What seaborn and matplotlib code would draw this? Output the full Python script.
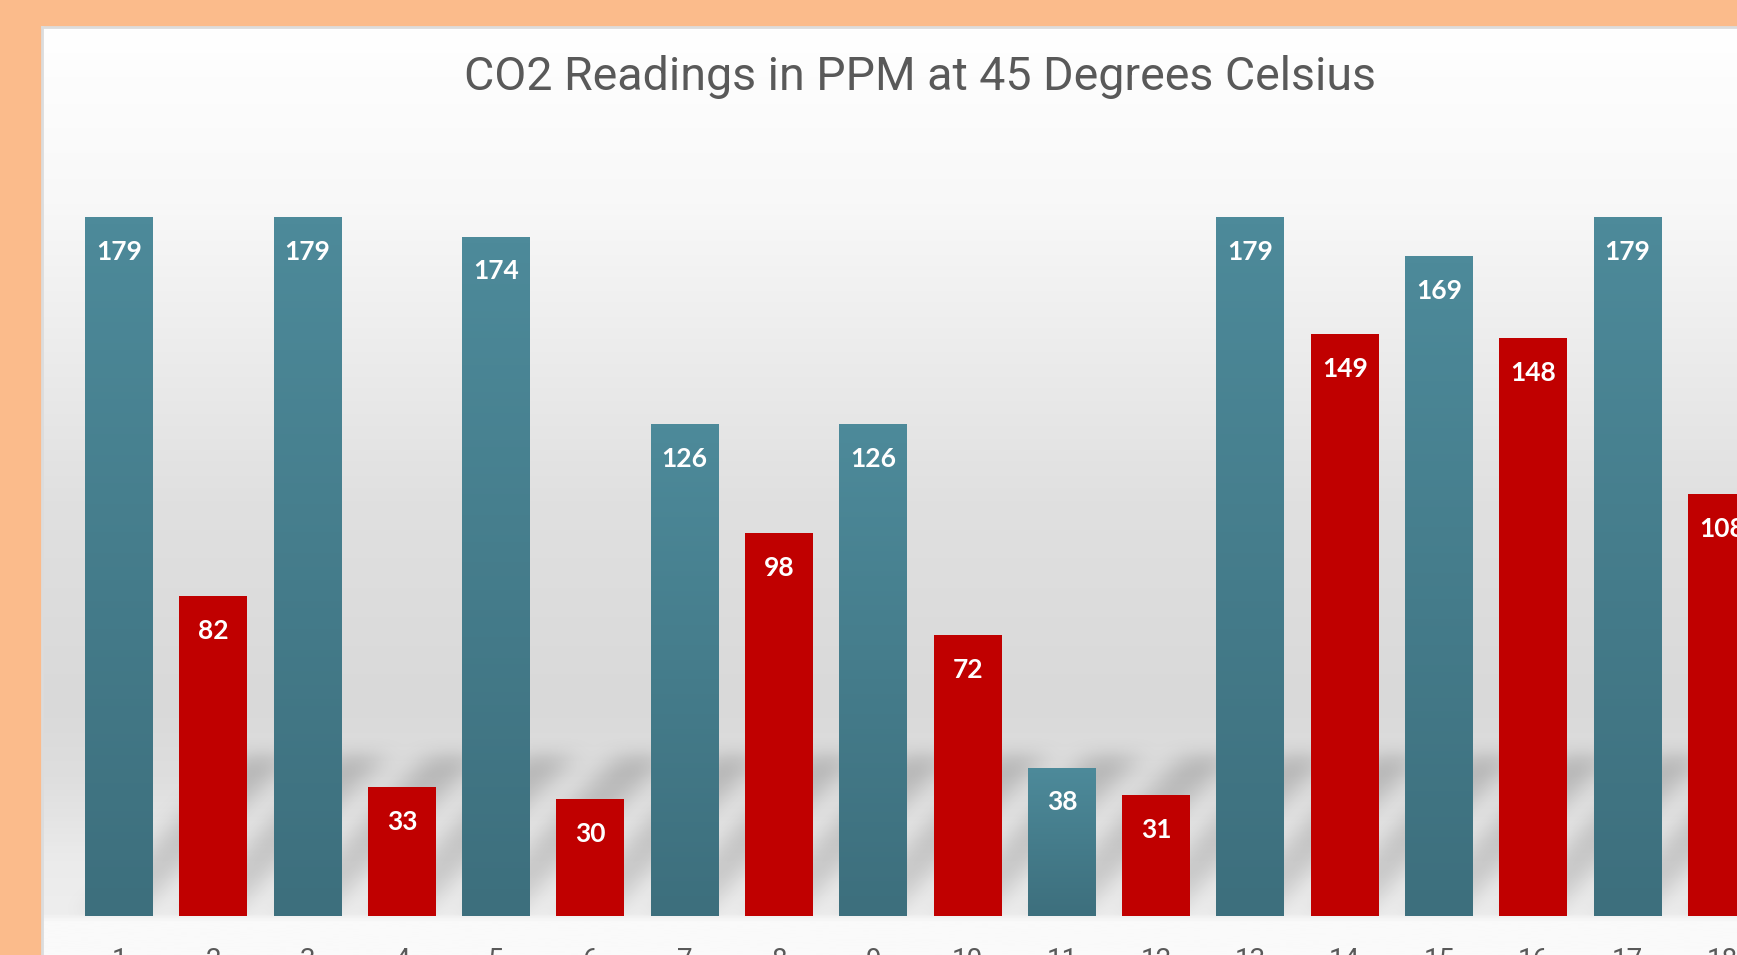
import numpy as np
import pandas as pd
import matplotlib
matplotlib.use("Agg")
import matplotlib.pyplot as plt
import seaborn as sns
from matplotlib.colors import LinearSegmentedColormap, to_rgb

# data
days = [str(i) for i in range(1, 19)]
ppm = [179, 82, 179, 33, 174, 30, 126, 98, 126, 72, 38, 31, 179, 149, 169, 148, 179, 108]
sample = ["A", "B"] * 9
title = "CO2 Readings in PPM at 45 Degrees Celsius"

df = pd.DataFrame({"day": days, "ppm": ppm, "sample": sample})

teal_top, teal_bottom = "#4d8a9a", "#3d6f7d"
red = "#c00000"
orange = "#fbbb8b"
text_grey = "#595959"

sns.set_theme(style="white")
plt.rcParams["font.family"] = ["Roboto", "DejaVu Sans"]

W, H = 1737, 955
fig = plt.figure(figsize=(W / 100, H / 100), dpi=100)
fig.patch.set_facecolor(orange)

# white chart panel with grey vertical gradient
px_left, px_top = 42, 27
bg = fig.add_axes([px_left / W, 0, 1 - px_left / W, (H - px_top) / H])
stops = [(0.0, "#ffffff"), (0.19, "#f8f8f8"), (0.35, "#ececec"), (0.51, "#e0e0e0"),
         (0.73, "#d9d9d9"), (0.81, "#dedede"), (0.90, "#ebebeb"), (0.958, "#eeeeee"),
         (0.968, "#fafafa"), (1.0, "#fafafa")]
cmap_bg = LinearSegmentedColormap.from_list("bg", stops)
grad = np.linspace(0, 1, 600).reshape(-1, 1)
bg.imshow(grad, aspect="auto", cmap=cmap_bg, extent=[0, 1, 0, 1], origin="upper")
bg.set_xlim(0, 1)
bg.set_ylim(0, 1)
bg.set_xticks([])
bg.set_yticks([])
for side in ["right", "bottom"]:
    bg.spines[side].set_visible(False)
for side in ["top", "left"]:
    bg.spines[side].set_color("#dcdcdc")
    bg.spines[side].set_linewidth(2)

# main axes, extends past the right edge like the cropped original
x0_px, x1_px = 48.3, 1769.0
base_px, unit_px = 39.0, 3.905
ymax = 200
ax = fig.add_axes([x0_px / W, base_px / H, (x1_px - x0_px) / W, ymax * unit_px / H])
ax.set_facecolor("none")

bar_w = 0.72
sns.barplot(data=df, x="day", y="ppm", hue="sample", palette={"A": teal_top, "B": red},
            width=bar_w, dodge=False, legend=False, saturation=1, linewidth=0,
            ax=ax, zorder=3)

# soft slanted shadows cast by the bars on the "floor"
sh_dx, sh_dy, sh_w = 1.65, 41.0, 0.55
gx = np.linspace(-0.75, 17.5, 1800)
gy = np.linspace(0, 60, 240)
XX, YY = np.meshgrid(gx, gy)
mask = np.zeros_like(XX)
for i in range(len(ppm)):
    shift = YY / sh_dy * sh_dx
    left = i - bar_w / 2 + shift
    inside = (XX >= left) & (XX <= left + sh_w) & (YY <= sh_dy)
    mask[inside] = 0.7 + 0.3 * (YY[inside] / sh_dy)
kx = np.ones(31) / 31
ky = np.ones(21) / 21
for _ in range(2):
    mask = np.apply_along_axis(lambda r: np.convolve(r, kx, mode="same"), 1, mask)
    mask = np.apply_along_axis(lambda c: np.convolve(c, ky, mode="same"), 0, mask)
shadow = np.zeros(mask.shape + (4,))
shadow[..., :3] = 0.5
shadow[..., 3] = mask * 0.42
ax.imshow(shadow, extent=[gx[0], gx[-1], gy[0], gy[-1]], origin="lower",
          aspect="auto", zorder=1, interpolation="bilinear")

# vertical gradient on the teal bars
cmap_teal = LinearSegmentedColormap.from_list("teal", [teal_bottom, teal_top])
for patch in ax.patches:
    if np.allclose(patch.get_facecolor()[:3], to_rgb(teal_top)):
        x, y = patch.get_x(), patch.get_y()
        w, h = patch.get_width(), patch.get_height()
        im = ax.imshow(np.linspace(0, 1, 100).reshape(-1, 1), cmap=cmap_teal, aspect="auto",
                       extent=[x, x + w, y, y + h], origin="lower", zorder=4)
        im.set_clip_path(patch)
ax.set_xlim(-0.75, 17.5)
ax.set_ylim(0, ymax)

# value labels inside the bar tops
for i, v in enumerate(ppm):
    ax.annotate(str(v), (i, v), xytext=(0, -25), textcoords="offset points",
                ha="center", va="center", color="white", fontsize=19,
                fontweight="bold", family=["Lato", "DejaVu Sans"], zorder=6)

sns.despine(ax=ax, left=True, bottom=True)
ax.set_xlabel("")
ax.set_ylabel("")
ax.set_yticks([])
ax.tick_params(axis="x", length=0, pad=22, labelsize=20, labelcolor=text_grey)
ax.grid(False)

fig.text(920 / W, 1 - 77 / H, title, ha="center", va="center", fontsize=33.5, color=text_grey)

fig.savefig("out.png", dpi=100, facecolor=fig.get_facecolor())
